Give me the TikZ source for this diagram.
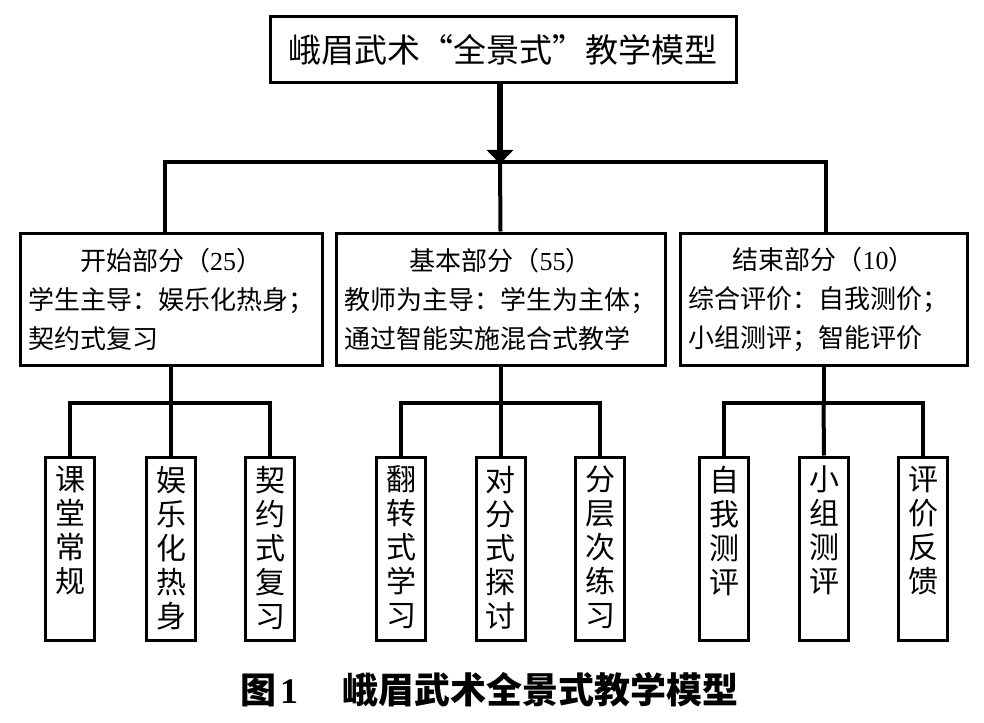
\documentclass[tikz,border=0pt]{standalone}
\usepackage{fontspec}
\setmainfont{Liberation Serif}
\newfontfamily\cjk{Noto Sans CJK SC}
\usetikzlibrary{arrows.meta}
\newcommand{\vtext}[1]{\parbox[c][165pt][t]{32pt}{\centering #1}}

\begin{document}
\begin{tikzpicture}[x=1pt,y=-1pt,
  titlebox/.style={draw, line width=3pt, minimum width=466pt, minimum height=66pt, font=\cjk\fontsize{33}{36}\selectfont},
  midbox/.style={draw, line width=3pt, inner xsep=8pt, minimum height=132pt, align=left, font=\cjk\fontsize{26}{39}\selectfont},
  leafbox/.style={draw, line width=3pt, inner sep=0pt, minimum width=49pt, minimum height=183pt, font=\cjk\fontsize{30}{34}\selectfont},
  conn/.style={line width=4pt},
]
\useasboundingbox (0,0) rectangle (984,722);

\node[titlebox] (title) at (503,50) {峨眉武术“全景式”教学模型};

% three parts
\node[midbox, text width=286pt] (start) at (171,299)
  {\makebox[\linewidth]{开始部分（{\rmfamily 25}）}\\学生主导：娱乐化热身；\\契约式复习};
\node[midbox, text width=313pt] (basic) at (500.5,299)
  {\makebox[\linewidth]{基本部分（{\rmfamily 55}）}\\教师为主导：学生为主体；\\通过智能实施混合式教学};
\node[midbox, text width=271pt] (ending) at (823.5,299)
  {\makebox[\linewidth]{结束部分（{\rmfamily 10}）}\\综合评价：自我测价；\\小组测评；智能评价};

% leaves
\node[leafbox] (l1) at (70,548.5)  {\vtext{课\\堂\\常\\规}};
\node[leafbox] (l2) at (171,548.5) {\vtext{娱\\乐\\化\\热\\身}};
\node[leafbox] (l3) at (270,548.5) {\vtext{契\\约\\式\\复\\习}};
\node[leafbox] (l4) at (401,548.5) {\vtext{翻\\转\\式\\学\\习}};
\node[leafbox] (l5) at (500.5,548.5) {\vtext{对\\分\\式\\探\\讨}};
\node[leafbox] (l6) at (600,548.5) {\vtext{分\\层\\次\\练\\习}};
\node[leafbox] (l7) at (724,548.5) {\vtext{自\\我\\测\\评}};
\node[leafbox] (l8) at (824,548.5) {\vtext{小\\组\\测\\评}};
\node[leafbox] (l9) at (923,548.5) {\vtext{评\\价\\反\\馈}};

% connectors
\coordinate (hub) at (500,162);
\draw[line width=6pt, -{Triangle[width=26pt,length=14pt]}] (title.south -| hub) -- ([yshift=-2pt]hub);
\draw[conn] (hub) -- (basic.north);
\draw[conn] ([xshift=-6pt]start.north) |- (hub) -| ([xshift=2pt]ending.north);

\coordinate (g1) at (171,403);
\coordinate (g2) at (500.5,403);
\coordinate (g3) at (823.5,403);
\draw[conn] (start.south) -- (g1);
\draw[conn] (basic.south) -- (g2);
\draw[conn] (ending.south) -- (g3);
\draw[conn] (l1.north) |- (g1) -| (l3.north);
\draw[conn] (g1) -- (l2.north);
\draw[conn] (l4.north) |- (g2) -| (l6.north);
\draw[conn] (g2) -- (l5.north);
\draw[conn] (l7.north) |- (g3) -| (l9.north);
\draw[conn] (g3) -- (l8.north);

\node[anchor=west, inner sep=0pt, font=\cjk\bfseries\fontsize{36}{40}\selectfont] (caption) at (240,690)
  {图\hspace{4pt}{\rmfamily 1}\hspace{44pt}峨眉武术全景式教学模型};
\end{tikzpicture}
\end{document}
